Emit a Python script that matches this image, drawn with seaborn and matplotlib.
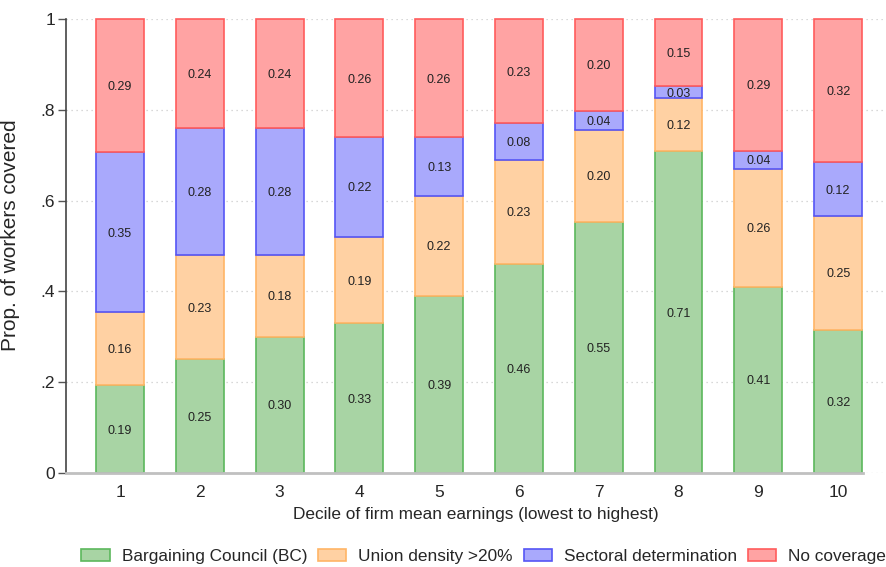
import matplotlib
matplotlib.use("Agg")
import matplotlib.pyplot as plt
import seaborn as sns
import numpy as np
import pandas as pd
from matplotlib.patches import Patch

deciles = ["1", "2", "3", "4", "5", "6", "7", "8", "9", "10"]
bargaining_council = [0.193, 0.25, 0.30, 0.33, 0.39, 0.46, 0.553, 0.709, 0.41, 0.316]
union_density = [0.162, 0.23, 0.18, 0.19, 0.22, 0.23, 0.203, 0.116, 0.26, 0.250]
sectoral = [0.351, 0.28, 0.28, 0.22, 0.13, 0.08, 0.042, 0.027, 0.04, 0.118]
no_coverage = [0.294, 0.24, 0.24, 0.26, 0.26, 0.23, 0.202, 0.148, 0.29, 0.316]

series_names = ["Bargaining Council (BC)", "Union density >20%", "Sectoral determination", "No coverage"]
series_vals = [bargaining_council, union_density, sectoral, no_coverage]
fills = ["#a8d4a4", "#ffd1a3", "#a9a9fc", "#ffa3a3"]
edges = ["#5cb85c", "#ffb566", "#5555f5", "#ff5c5c"]

sns.set_style("white")
plt.rcParams['font.family'] = ['Liberation Sans', 'DejaVu Sans']

fig = plt.figure(figsize=(8.86, 5.67), dpi=100)
ax = fig.add_axes([0.0745, 0.1658, 0.9255, 0.8007])

bottom = np.zeros(len(deciles))
for name, vals, fc, ec in zip(series_names, series_vals, fills, edges):
    df = pd.DataFrame({"decile": deciles, "value": vals})
    sns.barplot(data=df, x="decile", y="value", order=deciles, ax=ax,
                color=fc, edgecolor=ec, linewidth=1.2, width=0.6,
                bottom=bottom.copy(), saturation=1, errorbar=None, zorder=3,
                clip_on=False)
    for i, v in enumerate(vals):
        ax.text(i, bottom[i] + v / 2, f"{v:.2f}", ha="center", va="center_baseline",
                fontsize=9, color="#222222", zorder=5)
    bottom = bottom + np.array(vals)

ax.set_xlim(-0.677, 9.6)
ax.set_ylim(0, 1)
yt = [0, 0.2, 0.4, 0.6, 0.8, 1.0]
ax.set_yticks(yt)
ax.set_yticklabels(["0", ".2", ".4", ".6", ".8", "1"], fontsize=12.5)
for y in yt:
    ax.axhline(y, color="#cccccc", linestyle=(0, (1, 3)), linewidth=0.9, zorder=1)
ax.tick_params(axis="y", direction="out", length=6, width=1, color="#555555", pad=2, left=True)
ax.tick_params(axis="x", length=0, labelsize=12.5, pad=9)
for s in ["top", "right"]:
    ax.spines[s].set_visible(False)
ax.spines["left"].set_color("#444444")
ax.spines["left"].set_linewidth(1.2)
ax.spines["bottom"].set_color("#c0c0c0")
ax.spines["bottom"].set_linewidth(2)
ax.spines["bottom"].set_bounds(-0.677, 9.31)
ax.spines["bottom"].set_zorder(4)
ax.set_xlabel("Decile of firm mean earnings (lowest to highest)", fontsize=12.4, labelpad=5)
ax.set_ylabel("Prop. of workers covered", fontsize=15)
ax.yaxis.set_label_coords(-0.056, 0.524)

handles = [Patch(facecolor=fc, edgecolor=ec, linewidth=1.2) for fc, ec in zip(fills, edges)]
fig.legend(handles, series_names, loc="center", bbox_to_anchor=(0.546, 0.019), ncol=4,
           frameon=False, fontsize=12.4, handlelength=1.63, handleheight=0.76,
           columnspacing=0.64, handletextpad=0.7, borderpad=0, borderaxespad=0)

fig.savefig("out.png", dpi=100)
